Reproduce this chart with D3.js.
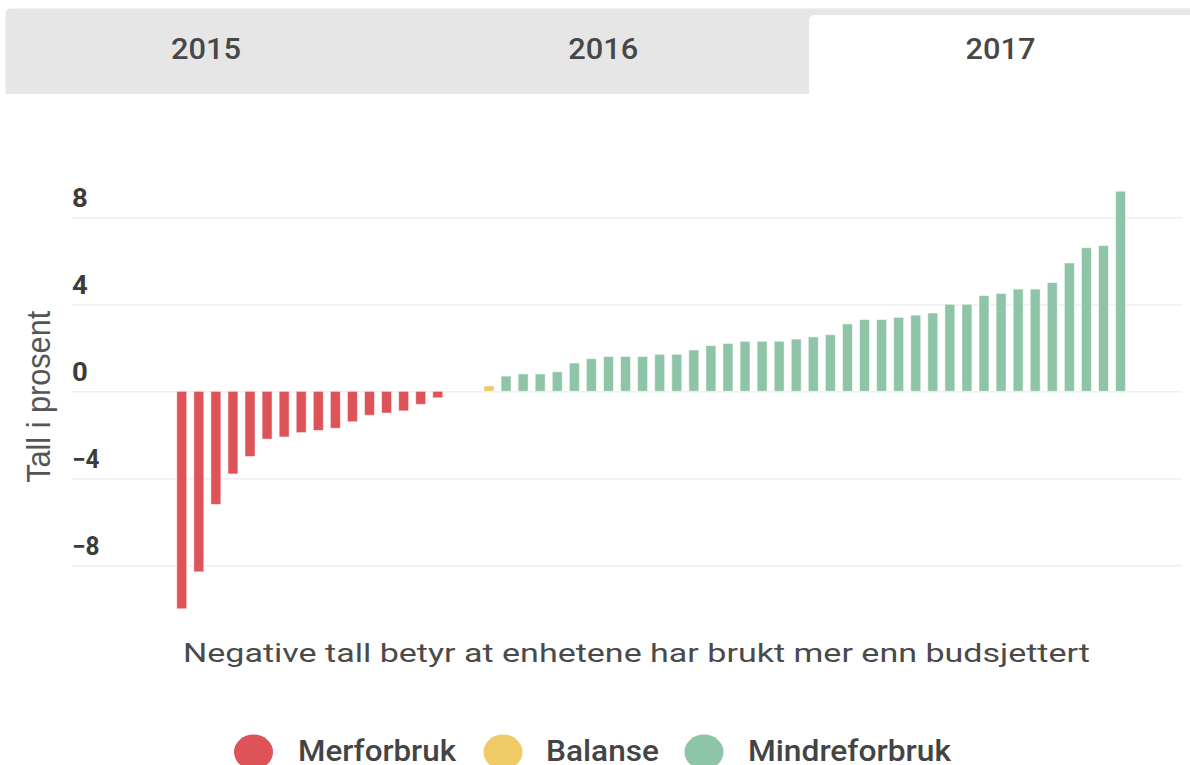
<!DOCTYPE html>
<html>
<head>
<meta charset="utf-8">
<script src="https://cdn.jsdelivr.net/npm/d3@7"></script>
<style>
  html, body { margin: 0; padding: 0; background: #ffffff; }
  svg { display: block; }
</style>
</head>
<body>
<div id="chart"></div>
<script>
// ---------------- DATA ----------------
const years = ["2015", "2016", "2017"];
const activeYear = "2017";
const units = [1,2,3,4,5,6,7,8,9,10,11,12,13,14,15,16,17,18,19,20,21,22,23,24,25,26,27,28,
               29,30,31,32,33,34,35,36,37,38,39,40,41,42,43,44,45,46,47,48,49,50,51,52,53,54,55,56];
const values = [-10.0, -8.3, -5.2, -3.8, -3.0, -2.2, -2.1, -1.9, -1.8, -1.7, -1.4, -1.1, -1.0, -0.9, -0.6, -0.3,
                0, 0, 0.25,
                0.7, 0.8, 0.8, 0.9, 1.3, 1.5, 1.6, 1.6, 1.6, 1.7, 1.7, 1.9, 2.1, 2.2, 2.3, 2.3, 2.3, 2.4, 2.5,
                2.6, 3.1, 3.3, 3.3, 3.4, 3.5, 3.6, 4.0, 4.0, 4.4, 4.5, 4.7, 4.7, 5.0, 5.9, 6.6, 6.7, 9.2];
const groups = ["Merforbruk", "Balanse", "Mindreforbruk"];
const groupColors = ["#dd5358", "#f1ca68", "#8ec4a7"];
const yTicks = [-8, -4, 0, 4, 8];
const yTitle = "Tall i prosent";
const subtitle = "Negative tall betyr at enhetene har brukt mer enn budsjettert";

// ---------------- LAYOUT ----------------
const W = 1190, H = 765;
const svg = d3.select("#chart").append("svg").attr("width", W).attr("height", H);

const color = d3.scaleOrdinal().domain(groups).range(groupColors);
function groupOf(v) { return v < 0 ? "Merforbruk" : (v < 0.5 ? "Balanse" : "Mindreforbruk"); }

function addText(parent, x, y, str, o) {
  const t = parent.append("text")
    .attr("x", x).attr("y", y)
    .attr("font-family", o.family || "Roboto, 'Noto Sans', sans-serif")
    .attr("font-size", o.size)
    .attr("font-weight", o.weight || 400)
    .attr("fill", o.fill || "#444")
    .attr("text-anchor", o.anchor || "start")
    .text(str);
  if (o.len) t.attr("textLength", o.len).attr("lengthAdjust", "spacingAndGlyphs");
  if (o.rotate) t.attr("transform", `rotate(${o.rotate},${x},${y})`);
  return t;
}

// ---------------- TABS ----------------
const tabs = svg.append("g");
tabs.append("path")
  .attr("d", "M5.5,14 Q5.5,8.5 11,8.5 L1190,8.5 L1190,94 L5.5,94 Z")
  .attr("fill", "#e6e6e6");
tabs.append("path")
  .attr("d", "M809,21 Q809,15 815,15 L1190,15 L1190,94 L809,94 Z")
  .attr("fill", "#ffffff");
const tabX = d3.scalePoint().domain(years).range([206, 1000.5]);
years.forEach(yr => {
  addText(tabs, tabX(yr), 59, yr, { size: 29.5, weight: 500, anchor: "middle", fill: "#474747", len: 70 });
});

// ---------------- SCALES ----------------
const y = d3.scaleLinear().domain([-11, 10]).range([630.55, 173.8]);
const x = d3.scaleBand().domain(units).range([173.2, 1129.1]).paddingInner(0.414).paddingOuter(0.207);

// ---------------- GRID / Y AXIS ----------------
const gridLeft = 72, gridRight = 1182;
const yAxis = d3.axisLeft(y).tickValues(yTicks).tickSize(gridRight - gridLeft).tickFormat(d3.format("d"));
const ag = svg.append("g").attr("transform", `translate(${gridRight},0)`).call(yAxis);
ag.select(".domain").remove();
ag.selectAll(".tick line").attr("stroke", "#ececec").attr("stroke-width", 1.3);
ag.selectAll(".tick text")
  .attr("x", -(gridRight - gridLeft))
  .attr("dy", -10.6)
  .attr("text-anchor", "start")
  .attr("font-family", "Roboto, 'Liberation Sans', sans-serif")
  .attr("font-size", 25)
  .attr("font-weight", 700)
  .attr("fill", "#3c3c3c")
  .each(function(d) {
    d3.select(this).attr("textLength", d < 0 ? 27.5 : 15.8).attr("lengthAdjust", "spacingAndGlyphs");
  });

// ---------------- BARS ----------------
svg.append("g").selectAll("rect")
  .data(units.map((u, i) => ({ u, v: values[i] })))
  .join("rect")
  .attr("x", d => x(d.u))
  .attr("width", x.bandwidth())
  .attr("y", d => y(Math.max(0, d.v)))
  .attr("height", d => Math.abs(y(d.v) - y(0)))
  .attr("fill", d => color(groupOf(d.v)))
  .attr("stroke", d => d.v === 0 ? "none" : "#ffffff")
  .attr("stroke-opacity", 0.55)
  .attr("stroke-width", 1);

// ---------------- AXIS TITLE ----------------
addText(svg, 50, 396.8, yTitle, {
  size: 34, weight: 400, anchor: "middle", fill: "#555",
  family: "'Liberation Sans', Arial, sans-serif", len: 172, rotate: -90
});

// ---------------- SUBTITLE ----------------
addText(svg, 183, 661.7, subtitle, { size: 26, weight: 400, fill: "#4a4a4a", len: 907 });

// ---------------- LEGEND ----------------
const legendCx = [253.5, 503, 704];
const legendTx = [298, 546, 748];
const legendLen = [158, 113, 203];
const lg = svg.append("g");
groups.forEach((g, i) => {
  lg.append("ellipse").attr("cx", legendCx[i]).attr("cy", 752).attr("rx", 19.5).attr("ry", 17.5)
    .attr("fill", color(g));
  addText(lg, legendTx[i], 761, g, { size: 29.5, weight: 500, fill: "#444", len: legendLen[i] });
});
</script>
</body>
</html>
